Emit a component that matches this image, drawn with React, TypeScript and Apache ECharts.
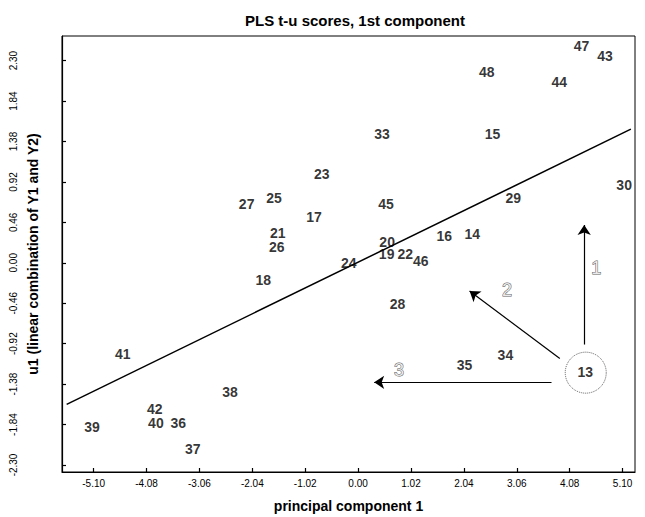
import React, { useEffect, useRef } from "react";
import * as echarts from "echarts";

// Observation labels and their (t1, u1) scores
const pointIds = ["47", "43", "48", "44", "33", "15", "23", "30", "29", "27", "25", "45", "17", "21", "26", "16", "14", "20", "19", "22", "46", "24", "18", "28", "41", "35", "34", "13", "38", "42", "40", "36", "39", "37"];
const pointX = [4.32, 4.77, 2.49, 3.89, 0.47, 2.60, -0.69, 5.14, 3.00, -2.14, -1.61, 0.55, -0.84, -1.54, -1.56, 1.67, 2.21, 0.57, 0.56, 0.92, 1.22, -0.17, -1.82, 0.77, -4.53, 2.06, 2.85, 4.39, -2.46, -3.91, -3.89, -3.46, -5.12, -3.18];
const pointY = [2.46, 2.35, 2.16, 2.05, 1.46, 1.46, 1.00, 0.88, 0.73, 0.66, 0.73, 0.66, 0.52, 0.33, 0.17, 0.30, 0.32, 0.23, 0.10, 0.10, 0.01, -0.01, -0.20, -0.47, -1.04, -1.17, -1.06, -1.25, -1.48, -1.67, -1.83, -1.83, -1.87, -2.12];

// Circled observation
const circledId = "13";

// Regression line end points
const fitX = [-5.62, 5.26];
const fitY = [-1.61, 1.52];

// Arrows (from -> to) and their numbers
const arrowNames = ["1", "2", "3"];
const arrowFromX = [4.36, 3.89, 3.73];
const arrowFromY = [-0.93, -1.09, -1.36];
const arrowToX = [4.36, 2.15, 0.31];
const arrowToY = [0.43, -0.32, -1.36];
const arrowLabelX = [4.60, 2.88, 0.80];
const arrowLabelY = [-0.06, -0.31, -1.23];

// Axis ticks
const xTicks = [-5.10, -4.08, -3.06, -2.04, -1.02, 0.0, 1.02, 2.04, 3.06, 4.08, 5.10];
const yTicks = [-2.30, -1.84, -1.38, -0.92, -0.46, 0.0, 0.46, 0.92, 1.38, 1.84, 2.30];
const xRange = [-5.71, 5.34];
const yRange = [-2.38, 2.58];

const FONT = "'Liberation Sans', Arial, Helvetica, sans-serif";
const INK = "#000";

export default function App() {
  const ref = useRef<HTMLDivElement>(null);

  useEffect(() => {
    document.body.style.margin = "0";
    if (!ref.current) return;
    const chart = echarts.init(ref.current, null, { renderer: "svg" });

    const pointData = pointIds.map((id, i) => ({ name: id, value: [pointX[i], pointY[i]] }));
    const circledIdx = pointIds.indexOf(circledId);
    const circleData = [{ name: circledId, value: [pointX[circledIdx], pointY[circledIdx]] }];
    const arrowLabelData = arrowNames.map((n, i) => ({ name: n, value: [arrowLabelX[i], arrowLabelY[i]] }));
    const arrowLines = arrowNames.map((_, i) => [
      { coord: [arrowFromX[i], arrowFromY[i]] },
      { coord: [arrowToX[i], arrowToY[i]] },
    ]);

    const axisLineStyle = { color: INK, width: 1.2 };

    chart.setOption({
      animation: false,
      backgroundColor: "#fff",
      title: {
        text: "PLS t-u scores, 1st component",
        left: 350,
        top: 8,
        textAlign: "center",
        textStyle: { fontSize: 15, fontWeight: "bold", color: INK, fontFamily: FONT },
      },
      grid: {
        left: 62,
        right: 10,
        top: 36,
        bottom: 45,
        containLabel: false,
        outerBoundsMode: "none",
        show: true,
        borderColor: INK,
        borderWidth: 1,
        backgroundColor: "transparent",
      },
      xAxis: {
        type: "value",
        min: xRange[0],
        max: xRange[1],
        name: "principal component 1",
        nameLocation: "middle",
        nameGap: 27,
        nameMoveOverlap: false,
        nameTextStyle: { fontSize: 14, fontWeight: "bold", color: INK, fontFamily: FONT },
        axisLine: { show: true, onZero: false, lineStyle: axisLineStyle },
        axisTick: { show: true, inside: true, length: 4, customValues: xTicks, lineStyle: axisLineStyle },
        axisLabel: {
          customValues: xTicks,
          formatter: (v: number) => v.toFixed(2),
          fontSize: 10,
          color: INK,
          fontFamily: FONT,
          margin: 6,
        },
        splitLine: { show: false },
      },
      yAxis: {
        type: "value",
        min: yRange[0],
        max: yRange[1],
        name: "u1 (linear combination of Y1 and Y2)",
        nameLocation: "middle",
        nameGap: 22,
        nameMoveOverlap: false,
        nameTextStyle: { fontSize: 14, fontWeight: "bold", color: INK, fontFamily: FONT },
        axisLine: { show: true, onZero: false, lineStyle: axisLineStyle },
        axisTick: { show: true, inside: true, length: 4, customValues: yTicks, lineStyle: axisLineStyle },
        axisLabel: {
          customValues: yTicks,
          formatter: (v: number) => v.toFixed(2),
          rotate: 90,
          fontSize: 10,
          color: INK,
          fontFamily: FONT,
          margin: 44,
        },
        splitLine: { show: false },
      },
      series: [
        {
          type: "line",
          name: "fit",
          data: fitX.map((x, i) => [x, fitY[i]]),
          symbol: "none",
          showSymbol: false,
          silent: true,
          lineStyle: { color: INK, width: 1.5 },
          z: 2,
        },
        {
          type: "scatter",
          name: "scores",
          data: pointData,
          symbolSize: 1,
          itemStyle: { color: "rgba(0,0,0,0)" },
          silent: true,
          label: {
            show: true,
            position: [0, 0],
            align: "center",
            verticalAlign: "middle",
            formatter: "{b}",
            fontSize: 14,
            fontWeight: "bold",
            color: INK,
            fontFamily: FONT,
          },
          labelLayout: { hideOverlap: false },
          z: 4,
        },
        {
          type: "scatter",
          name: "circled",
          data: circleData,
          symbol: "circle",
          symbolSize: 41,
          silent: true,
          itemStyle: { color: "rgba(0,0,0,0)", borderColor: "#333", borderWidth: 1, borderType: "dotted" },
          label: { show: false },
          z: 3,
        },
        {
          type: "scatter",
          name: "arrows",
          data: arrowLabelData,
          symbolSize: 1,
          itemStyle: { color: "rgba(0,0,0,0)" },
          silent: true,
          label: {
            show: true,
            position: [0, 0],
            align: "center",
            verticalAlign: "middle",
            formatter: "{b}",
            fontSize: 18,
            color: "#fff",
            textBorderColor: "#333",
            textBorderWidth: 1,
            fontFamily: FONT,
          },
          markLine: {
            silent: true,
            symbol: ["none", "arrow"],
            symbolSize: 10,
            label: { show: false },
            emphasis: { disabled: true },
            lineStyle: { color: INK, width: 1.2, type: "solid" },
            data: arrowLines,
          },
          z: 3,
        },
      ],
    });

    return () => chart.dispose();
  }, []);

  return <div ref={ref} style={{ width: 645, height: 517 }} />;
}
